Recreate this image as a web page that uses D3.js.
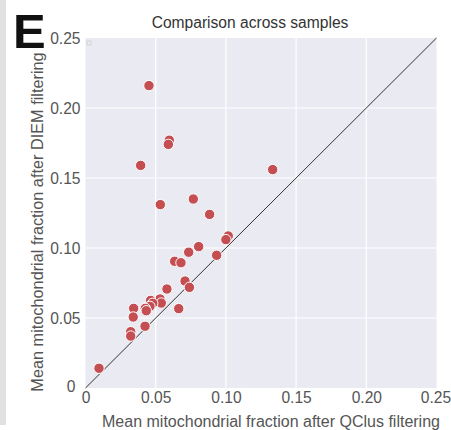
<!DOCTYPE html>
<html>
<head>
<meta charset="utf-8">
<script src="https://cdn.jsdelivr.net/npm/d3@7"></script>
<style>
  body { margin: 0; background: #fff; }
  text { font-family: "Liberation Sans", Arial, sans-serif; }
</style>
</head>
<body>
<svg width="451" height="430"></svg>
<script>
// mean mito fraction per sample
const qclus = [0.0452, 0.0597, 0.059, 0.0393, 0.1333, 0.0533, 0.0768, 0.0884,
  0.1017, 0.100, 0.0806, 0.0735, 0.0934, 0.0635, 0.068, 0.0709, 0.074, 0.058,
  0.0531, 0.054, 0.0464, 0.0479, 0.0459, 0.0426, 0.0433, 0.0343, 0.034, 0.0664,
  0.0424, 0.0322, 0.0322, 0.0096];
const diem = [0.216, 0.177, 0.174, 0.159, 0.156, 0.131, 0.135, 0.124,
  0.1086, 0.106, 0.101, 0.097, 0.0948, 0.0905, 0.0895, 0.0764, 0.0719, 0.0707,
  0.0636, 0.0607, 0.0626, 0.0605, 0.0583, 0.0569, 0.0552, 0.0569, 0.0507, 0.0567,
  0.0441, 0.0402, 0.0371, 0.0141];
const ticks = [0, 0.05, 0.10, 0.15, 0.20, 0.25];
const tickLabels = ["0", "0.05", "0.10", "0.15", "0.20", "0.25"];

const svg = d3.select("svg");
const pLeft = 85.5, pRight = 436.5, pTop = 38, pBottom = 388;

const x = d3.scaleLinear().domain([0, 0.25]).range([pLeft, pRight]);
const y = d3.scaleLinear().domain([0, 0.25]).range([pBottom, pTop]);

// grey strip on the left edge
svg.append("rect").attr("x", 0).attr("y", 0).attr("width", 6).attr("height", 425)
  .attr("fill", "#e1e1e3");

svg.append("rect")
  .attr("x", pLeft).attr("y", pTop)
  .attr("width", pRight - pLeft).attr("height", pBottom - pTop)
  .attr("fill", "#eaeaf2");

// grid
svg.append("g").selectAll("line").data(ticks.slice(1, 5)).enter().append("line")
  .attr("x1", d => x(d)).attr("x2", d => x(d))
  .attr("y1", pTop).attr("y2", pBottom)
  .attr("stroke", "#fff").attr("stroke-width", 1.2);
svg.append("g").selectAll("line").data(ticks.slice(1, 5)).enter().append("line")
  .attr("y1", d => y(d)).attr("y2", d => y(d))
  .attr("x1", pLeft).attr("x2", pRight)
  .attr("stroke", "#fff").attr("stroke-width", 1.2);

// tick labels
const xAxis = d3.axisBottom(x).tickValues(ticks).tickSize(0).tickPadding(4)
  .tickFormat((d, i) => tickLabels[i]);
const yAxis = d3.axisLeft(y).tickValues(ticks).tickSize(0).tickPadding(4)
  .tickFormat((d, i) => tickLabels[i]);

const gx = svg.append("g").attr("transform", "translate(0," + pBottom + ")").call(xAxis);
const gy = svg.append("g").attr("transform", "translate(" + pLeft + ",0)").call(yAxis);
[gx, gy].forEach(g => {
  g.select(".domain").remove();
  g.selectAll("text").attr("font-size", 15.6).attr("fill", "#555")
    .attr("font-family", "Liberation Sans, Arial, sans-serif");
});
gy.selectAll("text").attr("dx", -1);
gy.selectAll(".tick").filter(d => d === 0).select("text").attr("dy", "0.2em").attr("dx", -6);
gx.selectAll(".tick").filter(d => d === 0.25).select("text").attr("dx", -1);

// identity line
svg.append("line")
  .attr("x1", x(0)).attr("y1", y(0)).attr("x2", x(0.25)).attr("y2", y(0.25))
  .attr("stroke", "#333").attr("stroke-width", 1);

// small legend handle in the corner
svg.append("rect").attr("x", 87).attr("y", 41).attr("width", 4).attr("height", 4)
  .attr("fill", "none").attr("stroke", "#ccc").attr("stroke-width", 0.8);

// points
svg.append("g").selectAll("circle").data(qclus).enter().append("circle")
  .attr("cx", d => x(d))
  .attr("cy", (d, i) => y(diem[i]))
  .attr("r", 5.2)
  .attr("fill", "#c44e52")
  .attr("stroke", "#fff").attr("stroke-width", 1);

// text
svg.append("text").attr("x", 250).attr("y", 28).attr("text-anchor", "middle")
  .attr("font-size", 15.6).attr("fill", "#333").text("Comparison across samples");
svg.append("text").attr("x", 271).attr("y", 427).attr("text-anchor", "middle")
  .attr("font-size", 16).attr("fill", "#555")
  .text("Mean mitochondrial fraction after QClus filtering");
svg.append("text").attr("transform", "translate(43,222) rotate(-90)")
  .attr("text-anchor", "middle")
  .attr("font-size", 16.3).attr("fill", "#555")
  .text("Mean mitochondrial fraction after DIEM filtering");
svg.append("text").attr("x", 13).attr("y", 48)
  .attr("font-size", 49).attr("font-weight", "bold").attr("fill", "#111").text("E");
</script>
</body>
</html>
